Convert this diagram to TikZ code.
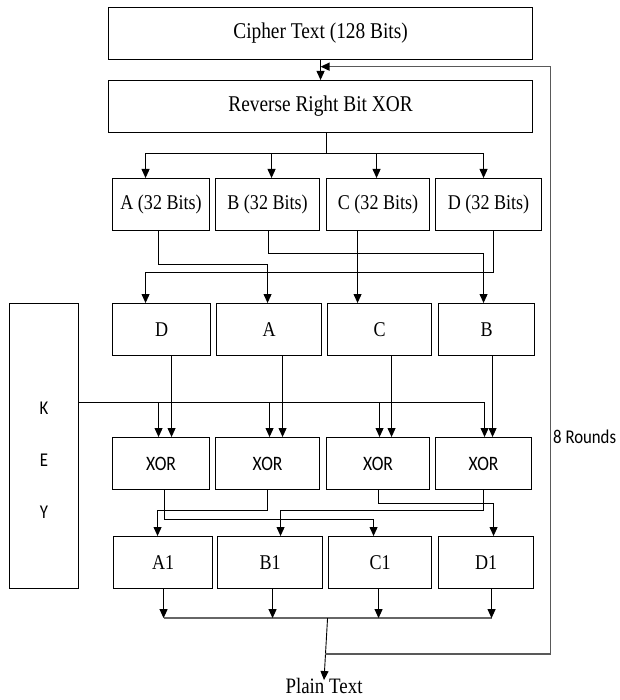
\documentclass[tikz,border=0pt]{standalone}
\usepackage{fontspec}
\setmainfont{Liberation Serif}[FakeStretch=0.86]
\newfontfamily\calib{Carlito}[FakeStretch=0.86]
\usetikzlibrary{arrows.meta,calc}
\begin{document}
\begin{tikzpicture}[x=1pt,y=-1pt,
 box/.style={draw, line width=1.1pt, anchor=north west, inner sep=0pt, align=center, minimum height=52pt, font=\fontsize{21}{25}\selectfont},
 big/.style={font=\fontsize{22.5}{27}\selectfont},
 sans/.style={font=\calib\fontsize{20.5}{24}\selectfont},
 arr/.style={line width=0.9pt, -{Triangle[length=9pt,width=8pt,color=black]}},
 wire/.style={line width=0.9pt},
 loopw/.style={line width=1.4pt, draw=black!65},
 collect/.style={line width=2pt, draw=black!60},
]
\useasboundingbox (0,0) rectangle (619,700);

% top boxes
\node[box, big, minimum width=424pt] (cipher) at (108,7) {Cipher Text (128 Bits)};
\node[box, big, minimum width=424pt] (rev) at (108,80) {Reverse Right Bit XOR};

% row 1
\node[box, minimum width=97pt]  (ra) at (112,178) {A (32 Bits)};
\node[box, minimum width=104pt] (rb) at (215,178) {B (32 Bits)};
\node[box, minimum width=103pt] (rc) at (326,178) {C (32 Bits)};
\node[box, minimum width=106pt] (rd) at (435,178) {D (32 Bits)};

% row 2
\node[box, minimum width=98pt]  (sd) at (112,303) {D};
\node[box, minimum width=105pt] (sa) at (216,303) {A};
\node[box, minimum width=104pt] (sc) at (327,303) {C};
\node[box, minimum width=96pt]  (sb) at (438,303) {B};

% row 3
\node[box, sans, minimum width=97pt]  (x1) at (112,437) {XOR};
\node[box, sans, minimum width=104pt] (x2) at (215,437) {XOR};
\node[box, sans, minimum width=103pt] (x3) at (326,437) {XOR};
\node[box, sans, minimum width=96pt]  (x4) at (435,437) {XOR};

% row 4
\node[box, minimum width=99pt]  (a1) at (113,536) {A1};
\node[box, minimum width=105pt] (b1) at (217,536) {B1};
\node[box, minimum width=103pt] (c1) at (328,536) {C1};
\node[box, minimum width=95pt]  (d1) at (438,536) {D1};

% key
\node[box, minimum width=69pt, minimum height=285pt] (key) at (9,303) {};
\node[inner sep=0pt, align=center, font=\calib\fontsize{19.5}{52}\selectfont] (keylbl) at ([yshift=-14.5pt]key.center) {K\\E\\Y};

\node[inner sep=0pt, font=\fontsize{22}{26}\selectfont] (plain) at (324,686) {Plain Text};
\node[sans, anchor=west, inner sep=0pt, font=\calib\fontsize{19.5}{23}\selectfont] (rounds) at (553,437) {8 Rounds};

% cipher -> reverse
\draw[arr] (cipher.south) -- (rev.north);
\coordinate (lt) at ($(cipher.south)!0.33!(rev.north)$);

% split
\path ([xshift=6pt]rev.south) coordinate (rs) ++(0,20) coordinate (hub);
\draw[wire] (rs) -- (hub);
\draw[arr] (hub) -| ([xshift=-15.5pt]ra.north);
\draw[arr] (hub) -| ([xshift=4pt]rb.north);
\draw[arr] (hub) -| ([xshift=-1.5pt]rc.north);
\draw[arr] (hub) -| ([xshift=-5pt]rd.north);

% row1 -> row2
\draw[arr] ([xshift=-2.5pt]ra.south) -- ++(0,33) -| ([xshift=-1.5pt]sa.north);
\draw[arr] ([xshift=1pt]rb.south) -- ++(0,22) -| ([xshift=-3pt]sb.north);
\draw[arr] ([xshift=-20.5pt]rc.south) -- ([xshift=-22pt]sc.north);
\draw[arr] ([xshift=5pt]rd.south) -- ++(0,41) -| ([xshift=-16pt]sd.north);

% row2 -> xor
\draw[arr] ([xshift=10pt]sd.south) -- ([xshift=10pt]sd.south |- x1.north);
\draw[arr] ([xshift=13.5pt]sa.south) -- ([xshift=13.5pt]sa.south |- x2.north);
\draw[arr] ([xshift=12pt]sc.south) -- ([xshift=12pt]sc.south |- x3.north);
\draw[arr] ([xshift=6pt]sb.south) -- ([xshift=6pt]sb.south |- x4.north);

% key lines
\coordinate (kl) at ([yshift=43.5pt]key.east);
\draw[arr] (kl) -| ([xshift=-2.5pt]x1.north);
\draw[arr] (kl) -| ([xshift=2pt]x2.north);
\draw[arr] (kl) -| ([xshift=1.5pt]x3.north);
\draw[arr] (kl) -| ([xshift=1pt]x4.north);

% xor -> row4
\draw[arr] ([xshift=3.5pt]x1.south) -- ++(0,29) -| ([xshift=-6.5pt]c1.north);
\draw[arr] (x2.south) -- ++(0,20) -| ([xshift=-5.5pt]a1.north);
\draw[arr] ([xshift=0.5pt]x3.south) -- ++(0,13) -| ([xshift=7.5pt]d1.north);
\draw[arr] (x4.south) -- ++(0,20) -| ([xshift=10.5pt]b1.north);

% row4 -> collector
\path ([xshift=0.5pt]a1.south) ++(0,29) coordinate (cl);
\path ([xshift=5.5pt]d1.south) ++(0,29) coordinate (cr);
\draw[collect] (cl) -- (cr);
\draw[arr] ([xshift=0.5pt]a1.south) -- (cl);
\draw[arr] ([xshift=2.5pt]b1.south) -- ([xshift=2.5pt]b1.south |- cl);
\draw[arr] ([xshift=-1.5pt]c1.south) -- ([xshift=-1.5pt]c1.south |- cl);
\draw[arr] ([xshift=5.5pt]d1.south) -- (cr);
\coordinate (cm) at ($(cl)!0.5!(cr)$);
\draw[arr] (cm) -- ([yshift=-2pt]plain.north);

% loop back
\coordinate (lb) at ($(cm)!0.6!(plain.north)$);
\draw[arr, loopw] (lb) -- ++(225,0) coordinate (lc) -- (lc |- lt) -- (lt);
\end{tikzpicture}
\end{document}
